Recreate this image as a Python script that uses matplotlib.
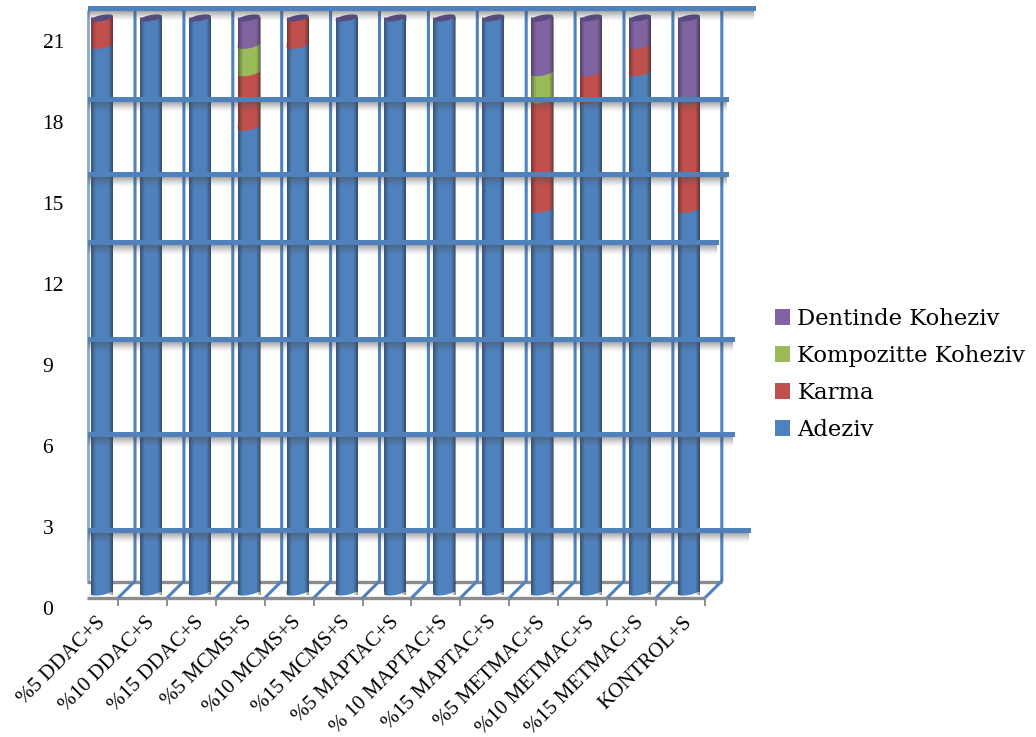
import numpy as np
import matplotlib
matplotlib.use("Agg")
import matplotlib.pyplot as plt
from matplotlib.patches import Rectangle
from matplotlib.transforms import ScaledTranslation

categories = ["%5 DDAC+S", "%10 DDAC+S", "%15 DDAC+S", "%5 MCMS+S", "%10 MCMS+S", "%15 MCMS+S",
              "%5 MAPTAC+S", "% 10 MAPTAC+S", "%15 MAPTAC+S", "%5 METMAC+S", "%10 METMAC+S",
              "%15 METMAC+S", "KONTROL+S"]
adeziv = [20, 21, 21, 17, 20, 21, 21, 21, 21, 14, 18, 19, 14]
karma = [1, 0, 0, 2, 1, 0, 0, 0, 0, 4, 1, 1, 4]
kompozit = [0, 0, 0, 1, 0, 0, 0, 0, 0, 1, 0, 0, 0]
dentin = [0, 0, 0, 1, 0, 0, 0, 0, 0, 2, 2, 1, 3]
series_names = ["Adeziv", "Karma", "Kompozitte Koheziv", "Dentinde Koheziv"]
series_colors = ["#4F81BD", "#C0504D", "#9BBB59", "#8064A2"]
y_ticks = [0, 3, 6, 9, 12, 15, 18, 21]

W, H = 1036, 737
grid_rows = [8, 99, 174, 242, 339, 434, 530]
grid_ends = [756, 729, 729, 719, 735, 735, 751]
BLUE = "#4F81BD"
GRAY = "#8C8C8C"

fig = plt.figure(figsize=(W / 100, H / 100), dpi=100, facecolor="white")


def px_axes(x0, y_top, x1, y_bottom, z):
    return fig.add_axes([x0 / W, 1 - y_bottom / H, (x1 - x0) / W, (y_bottom - y_top) / H], zorder=z)


# wall and floor, behind the columns
back = px_axes(0, 0, W, H, 1)
back.set_xlim(0, W)
back.set_ylim(H, 0)
back.axis("off")
n = len(categories)
step = 48.9
back.plot([88, 88], [10, 581], color="#86A8D2", lw=2.0, solid_capstyle="butt")
back.plot([87, 722], [581.5, 581.5], color=GRAY, lw=2.4, solid_capstyle="butt")
back.plot([87, 705], [597.5, 597.5], color=GRAY, lw=2.4, solid_capstyle="butt")
for i in range(n):
    xb = 135 + i * 48.9
    xf = 118 + i * 48.9
    back.plot([xb, xb, xf], [10, 581, 598], color=BLUE, lw=2.2, solid_joinstyle="miter")
    back.plot([xf, xf], [598, 605], color=GRAY, lw=1.4)

# columns
x0_px = 102 - 0.5 * step
x1_px = 102 + (n - 0.5) * step
ax = px_axes(x0_px, 18, x1_px, 592, 2)
ax.patch.set_alpha(0)
x = np.arange(n)
bar_w = 22 / step
t = np.linspace(0, np.pi, 40)
rx = bar_w / 2
ry = 3 / 27.33
tilt = 2 / 27.33

shade = np.zeros((1, 64, 4))
u = np.linspace(0, 1, 64)
shade[0, :, 3] = np.clip(0.42 * (1 - u / 0.22), 0, 1) + np.clip(0.5 * (u - 0.80) / 0.20, 0, 1)
shade[0, :, :3] = 0.08

bottoms = np.zeros(n)
handles = []
for values, color, name in zip([adeziv, karma, kompozit, dentin], series_colors, series_names):
    values = np.array(values, dtype=float)
    h = ax.bar(x, values, bar_w, bottom=bottoms, color=color, label=name, zorder=2, linewidth=0)
    handles.append(h)
    tops = bottoms + values
    for i in range(n):
        if values[i] > 0:
            # curved lower edge of this segment
            ax.fill(np.r_[x[i] + rx * np.cos(t), x[i] - rx, x[i] + rx],
                    np.r_[bottoms[i] - ry * np.sin(t) + tilt * np.cos(t), bottoms[i] + tilt, bottoms[i] + tilt],
                    color=color, lw=0, zorder=2.2 + 0.01 * len(handles), clip_on=False)
            # this segment's colour rises on the right under the next one
            ax.fill([x[i], x[i] + rx, x[i] + rx], [tops[i] - ry, tops[i] + tilt, tops[i] - ry],
                    color=color, lw=0, zorder=2.1, clip_on=False)
    bottoms = tops

for i in range(n):
    ax.imshow(shade, extent=(x[i] - rx, x[i] + rx, -ry, bottoms[i]), aspect="auto", zorder=3,
              interpolation="bilinear", clip_on=False)
    tt = np.linspace(0, 2 * np.pi, 60)
    ax.fill(x[i] + rx * np.cos(tt), bottoms[i] + ry * np.sin(tt) + tilt * np.cos(tt),
            color="#5B4A85", lw=0, zorder=4, clip_on=False)

ax.set_xlim(-0.5, n - 0.5)
ax.set_ylim(0, 21)
ax.set_yticks([])
ax.set_xticks(x)
ax.set_xticklabels(categories, rotation=45, ha="right", va="top", rotation_mode="anchor",
                   family="Liberation Serif", fontsize=15)
ax.tick_params(axis="x", length=0, pad=15)
shift = ScaledTranslation(-6 / 100, 0, fig.dpi_scale_trans)
for lab in ax.get_xticklabels():
    lab.set_transform(lab.get_transform() + shift)
for s in ax.spines.values():
    s.set_visible(False)

legend = ax.legend(handles[::-1], series_names[::-1], loc="upper left",
                   bbox_to_anchor=((775 - x0_px) / (x1_px - x0_px), 1 + (18 - 308) / 574),
                   frameon=False, handlelength=0.67, handleheight=0.67, handletextpad=0.31,
                   labelspacing=0.66, borderpad=0, borderaxespad=0,
                   prop={"family": "DejaVu Serif", "size": 16.4})

# horizontal gridlines with their soft shadow, in front of the columns
front = px_axes(0, 0, W, H, 3)
front.patch.set_alpha(0)
for row, end in zip(grid_rows, grid_ends):
    grad = np.zeros((12, 1, 4))
    grad[:, 0, :3] = 0.3
    grad[:, 0, 3] = 0.55 * (1 - np.linspace(0, 1, 12)) ** 1.4
    front.imshow(grad, extent=(88, end - 2, row + 14, row + 2), aspect="auto", interpolation="bilinear", zorder=1)
    front.add_patch(Rectangle((88, row - 2.5), end - 88, 5, color=BLUE, lw=0, zorder=2))
front.set_xlim(0, W)
front.set_ylim(H, 0)
front.axis("off")

# value axis labels
ya = px_axes(42, 41, 42.5, 608, 4)
ya.patch.set_alpha(0)
ya.set_ylim(0, 21)
ya.set_xticks([])
ya.set_yticks(y_ticks)
ya.set_yticklabels([str(v) for v in y_ticks], family="Liberation Serif", fontsize=15.5)
ya.tick_params(axis="y", length=0, pad=0, labelleft=False, labelright=True)
for s in ya.spines.values():
    s.set_visible(False)

fig.savefig("out.png", dpi=100)
